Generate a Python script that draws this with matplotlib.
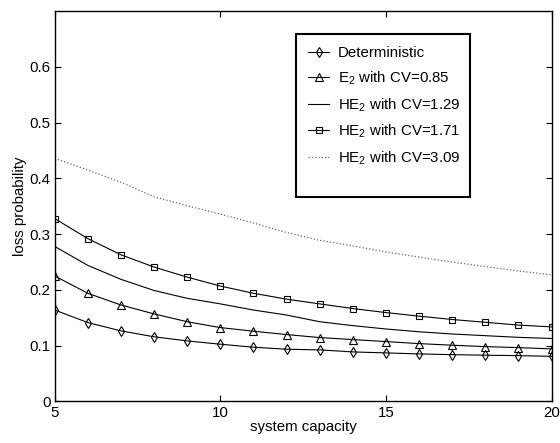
import numpy as np
import matplotlib.pyplot as plt
from matplotlib.patches import Rectangle

plt.rcParams['font.family'] = ['Liberation Sans', 'DejaVu Sans']
plt.rcParams['mathtext.fontset'] = 'custom'
plt.rcParams['mathtext.rm'] = 'Liberation Sans'

capacity = np.arange(5, 21)

deterministic = [0.164, 0.1415, 0.1266, 0.116, 0.1086, 0.1027, 0.0973, 0.0937,
                 0.0925, 0.0889, 0.0871, 0.0853, 0.084, 0.083, 0.0822, 0.081]
e2_085 = [0.225, 0.194, 0.173, 0.157, 0.143, 0.1325, 0.126, 0.12,
          0.1146, 0.111, 0.1074, 0.1038, 0.1009, 0.0984, 0.0966, 0.0943]
he2_129 = [0.278, 0.244, 0.219, 0.199, 0.185, 0.175, 0.164, 0.155,
           0.143, 0.136, 0.130, 0.125, 0.121, 0.118, 0.115, 0.113]
he2_171 = [0.328, 0.292, 0.263, 0.241, 0.223, 0.207, 0.194, 0.1835,
           0.175, 0.1666, 0.1594, 0.153, 0.147, 0.142, 0.137, 0.1337]
he2_309 = [0.436, 0.415, 0.393, 0.367, 0.351, 0.336, 0.320, 0.303,
           0.289, 0.279, 0.268, 0.259, 0.250, 0.242, 0.234, 0.227]

fs = 10.8

fig = plt.figure(figsize=(5.6, 4.43), dpi=100)
ax = fig.add_axes([0.0977, 0.0937, 0.8873, 0.8813])

lw = 0.8
ax.plot(capacity, deterministic, 'k-', marker='d', ms=5, mfc='none', mew=0.8, lw=lw,
        label='Deterministic')
ax.plot(capacity, e2_085, 'k-', marker='^', ms=5.5, mfc='none', mew=0.8, lw=lw,
        label='E$_2$ with CV=0.85')
ax.plot(capacity, he2_129, 'k-', lw=lw, label='HE$_2$ with CV=1.29')
ax.plot(capacity, he2_171, 'k-', marker='s', ms=4.5, mfc='none', mew=0.8, lw=lw,
        label='HE$_2$ with CV=1.71')
ax.plot(capacity, he2_309, color='0.4', ls=':', lw=0.9, label='HE$_2$ with CV=3.09')

ax.set_xlim(5, 20)
ax.set_ylim(0, 0.7)
ax.set_xticks([5, 10, 15, 20])
ax.set_yticks([0, 0.1, 0.2, 0.3, 0.4, 0.5, 0.6])
ax.set_yticklabels(['0', '0.1', '0.2', '0.3', '0.4', '0.5', '0.6'])
ax.tick_params(direction='in', length=4, width=0.8, labelsize=fs,
               top=True, right=True, pad=3)
for sp in ax.spines.values():
    sp.set_linewidth(1.0)

ax.set_xlabel('system capacity', fontsize=fs, labelpad=0)
ax.set_ylabel('loss probability', fontsize=fs, labelpad=2)

# legend box drawn separately (the original has extra room below the entries)
ax.add_patch(Rectangle((0.486, 0.524), 0.35, 0.417, transform=ax.transAxes,
                       fill=True, facecolor='white', edgecolor='k', lw=1.5, zorder=5))
leg = ax.legend(loc='upper left', bbox_to_anchor=(0.486, 0.941), fontsize=fs,
                frameon=False, handlelength=1.4,
                borderpad=0.8, labelspacing=0.6, handletextpad=0.6,
                borderaxespad=0)
leg.set_zorder(6)

fig.savefig('out.png', dpi=100)
